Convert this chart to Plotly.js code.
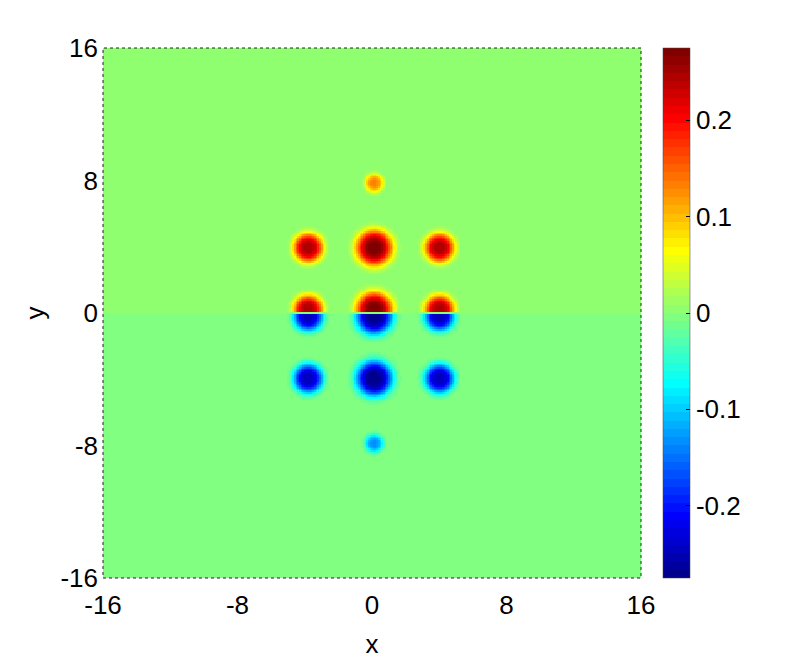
<!DOCTYPE html>
<html>
<head>
<meta charset="utf-8">
<script src="https://cdn.plot.ly/plotly-3.0.1.min.js"></script>
<style>
  html, body { margin: 0; padding: 0; background: #fff; }
  #chart { width: 789px; height: 664px; }
</style>
</head>
<body>
<div id="chart"></div>
<script>
// ---- Data ----
// Blobs in the upper half-plane (the field is mirrored antisymmetrically: z(x,-y) = -z(x,y))
var blobX    = [0.12, -3.8, 0.12, 4.0, -3.8, 0.12, 4.0];
var blobY    = [7.85, 3.94, 3.94, 3.94, 0.2, 0.2, 0.2];
var blobAmp  = [0.13, 0.245, 0.272, 0.245, 0.245, 0.272, 0.245];
var blobW    = [0.56, 0.88, 1.07, 0.88, 0.88, 1.07, 0.88];
var background = 0.002;

var xTicks = [-16, -8, 0, 8, 16];
var yTicks = [-16, -8, 0, 8, 16];
var cTicks = [-0.2, -0.1, 0, 0.1, 0.2];
var cTickText = ['-0.2', '-0.1', '0', '0.1', '0.2'];
var zRange = [-0.275, 0.275];

// ---- Grid ----
var step = 0.1;
var xs = [], ys = [];
for (var v = -16; v <= 16.0001; v += step) { xs.push(+v.toFixed(4)); ys.push(+v.toFixed(4)); }
var z = [];
for (var j = 0; j < ys.length; j++) {
  var row = [];
  var y = ys[j], ay = Math.abs(y), sg = y > 1e-9 ? 1 : (y < -1e-9 ? -1 : 0);
  for (var i = 0; i < xs.length; i++) {
    var x = xs[i], s = background;
    for (var k = 0; k < blobX.length; k++) {
      var dx = x - blobX[k], dy = ay - blobY[k];
      var d = Math.sqrt(dx * dx + dy * dy);
      s += blobAmp[k] * Math.exp(-Math.pow(d / blobW[k], 3.3));
    }
    row.push(sg * s);
  }
  z.push(row);
}

// ---- MATLAB jet(64) as a stepped colorscale ----
function clamp(a) { return Math.max(0, Math.min(1, a)); }
var N = 64, cs = [];
for (var k = 1; k <= N; k++) {
  var t = k / N;
  var r = clamp(1.5 - Math.abs(4 * t - 3)), g = clamp(1.5 - Math.abs(4 * t - 2)), b = clamp(1.5 - Math.abs(4 * t - 1));
  var col = 'rgb(' + Math.round(r * 255) + ',' + Math.round(g * 255) + ',' + Math.round(b * 255) + ')';
  cs.push([(k - 1) / N, col]);
  cs.push([k / N, col]);
}

var font = { family: 'Liberation Sans, Arial, Helvetica, sans-serif', size: 26, color: '#000' };

var trace = {
  type: 'heatmap', x: xs, y: ys, z: z,
  zmin: zRange[0], zmax: zRange[1], colorscale: cs, zsmooth: false,
  colorbar: {
    x: 1.0409, xanchor: 'left', xpad: 0, ypad: 0,
    y: 0.5, yanchor: 'middle', len: 1, lenmode: 'fraction',
    thickness: 27, thicknessmode: 'pixels',
    tickvals: cTicks, ticktext: cTickText, ticks: 'inside', ticklen: 4, tickcolor: '#000',
    tickfont: font, outlinewidth: 0.5, outlinecolor: '#444'
  },
  hoverinfo: 'skip'
};

var layout = {
  width: 789, height: 664,
  margin: { l: 103, r: 148, t: 48, b: 86 },
  paper_bgcolor: '#fff', plot_bgcolor: '#fff',
  font: font,
  xaxis: {
    range: [-16, 16], tickvals: xTicks, ticktext: xTicks.map(String), ticks: '',
    showgrid: false, zeroline: false, showline: false, tickfont: font,
    ticklabelstandoff: 9,
    title: { text: 'x', font: font, standoff: 15 }
  },
  yaxis: {
    range: [-16, 16], tickvals: yTicks, ticktext: yTicks.map(String), ticks: '',
    showgrid: false, zeroline: false, showline: false, tickfont: font,
    ticklabelstandoff: 4,
    title: { text: 'y', font: font, standoff: 8 }
  },
  shapes: [{
    type: 'rect', xref: 'paper', yref: 'paper', x0: 0, x1: 1, y0: 0, y1: 1,
    line: { color: '#222', width: 1, dash: 'dot' }, fillcolor: 'rgba(0,0,0,0)', layer: 'above'
  }]
};

Plotly.newPlot('chart', [trace], layout, { staticPlot: true, displayModeBar: false });
</script>
</body>
</html>
